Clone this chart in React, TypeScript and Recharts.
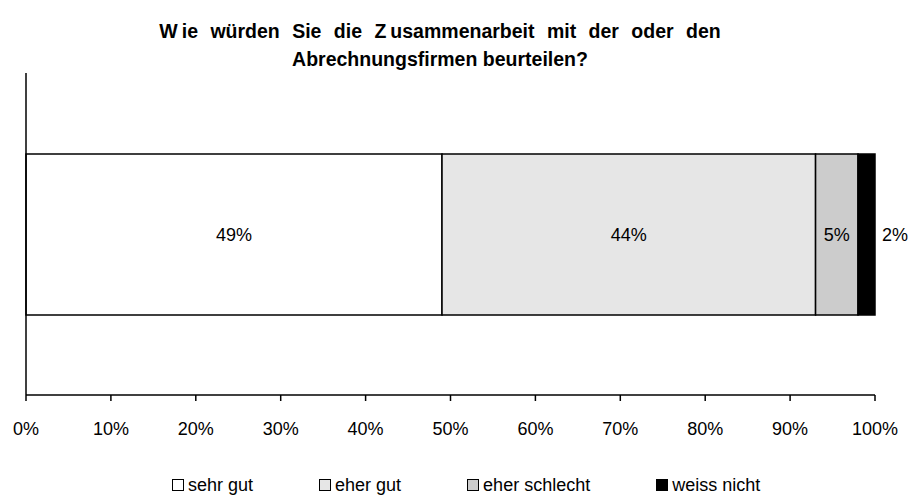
import React from "react";
import { BarChart, Bar, XAxis, YAxis, LabelList, Legend } from "recharts";

const categories = ["Zusammenarbeit"];
const seriesNames = ["sehr gut", "eher gut", "eher schlecht", "weiss nicht"];
const seriesKeys = ["sehrGut", "eherGut", "eherSchlecht", "weissNicht"];
const sehrGut = [49];
const eherGut = [44];
const eherSchlecht = [5];
const weissNicht = [2];
const xTicks = [0, 10, 20, 30, 40, 50, 60, 70, 80, 90, 100];

const colors = ["#ffffff", "#e6e6e6", "#cccccc", "#000000"];
const FONT = "'Liberation Sans', Arial, sans-serif";

const data = categories.map((c, i) => ({
  name: c,
  sehrGut: sehrGut[i],
  eherGut: eherGut[i],
  eherSchlecht: eherSchlecht[i],
  weissNicht: weissNicht[i],
}));

const pct = (v: any) => `${v}%`;

const LegendContent = () => (
  <div
    style={{
      display: "flex",
      alignItems: "center",
      gap: 66,
      paddingLeft: 172,
      fontFamily: FONT,
      fontSize: 18,
      color: "#000",
      lineHeight: "22px",
    }}
  >
    {seriesNames.map((n, i) => (
      <div key={n} style={{ display: "flex", alignItems: "center" }}>
        <span
          style={{
            display: "inline-block",
            width: 10,
            height: 10,
            border: "1px solid #000",
            background: colors[i],
            marginRight: 4,
          }}
        />
        <span>{n}</span>
      </div>
    ))}
  </div>
);

const gap = { letterSpacing: 4 };

export default function App() {
  return (
    <div style={{ position: "absolute", left: 0, top: 0, width: 914, height: 496, background: "#fff" }}>
      <div
        style={{
          position: "absolute",
          left: 0,
          top: 17,
          width: 880,
          textAlign: "center",
          fontFamily: FONT,
          fontWeight: "bold",
          fontSize: 19.5,
          lineHeight: "28px",
          color: "#000",
          zIndex: 2,
        }}
      >
        <div style={{ wordSpacing: 7 }}>
          <span style={gap}>W</span>ie würden Sie die <span style={gap}>Z</span>usammenarbeit mit der oder den
        </div>
        <div>Abrechnungsfirmen beurteilen?</div>
      </div>
      <BarChart
        width={914}
        height={496}
        data={data}
        layout="vertical"
        margin={{ top: 73, right: 39, left: 0, bottom: 51 }}
      >
        <XAxis
          type="number"
          domain={[0, 100]}
          ticks={xTicks}
          tickFormatter={pct}
          axisLine={{ stroke: "#000", strokeWidth: 1.5 }}
          tickLine={{ stroke: "#000", strokeWidth: 1.5 }}
          tickSize={6}
          tickMargin={21}
          height={50}
          interval={0}
          tick={{ fill: "#000", fontSize: 18, fontFamily: FONT }}
        />
        <YAxis
          type="category"
          dataKey="name"
          width={26}
          tick={false}
          tickLine={false}
          axisLine={{ stroke: "#000", strokeWidth: 1.5 }}
        />
        <Legend
          layout="horizontal"
          verticalAlign="middle"
          align="center"
          content={<LegendContent />}
          wrapperStyle={{ left: 0, top: 474, width: 914 }}
        />
        {seriesKeys.map((k, i) => (
          <Bar
            key={k}
            dataKey={k}
            name={seriesNames[i]}
            stackId="a"
            fill={colors[i]}
            stroke="#000"
            strokeWidth={1.5}
            barSize={161}
            isAnimationActive={false}
          >
            <LabelList
              dataKey={k}
              position={i === 3 ? "right" : "center"}
              offset={7}
              formatter={pct}
              fill="#000"
              style={{ fontSize: 18, fontFamily: FONT, fill: "#000" }}
            />
          </Bar>
        ))}
      </BarChart>
    </div>
  );
}
